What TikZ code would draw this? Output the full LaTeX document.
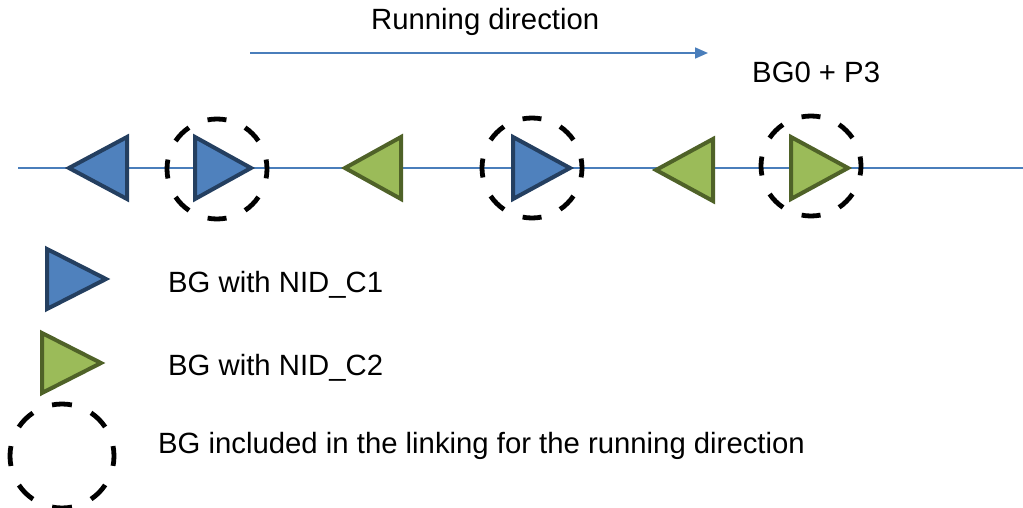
\documentclass[tikz,border=0pt]{standalone}
\usepackage{fontspec}
\setmainfont{Liberation Sans}
\usetikzlibrary{arrows.meta}
\definecolor{bgblue}{HTML}{4F81BD}
\definecolor{bgblueedge}{HTML}{243F60}
\definecolor{bggreen}{HTML}{9BBB59}
\definecolor{bggreenedge}{HTML}{4F6228}
\definecolor{linecol}{HTML}{4A7EBB}
\begin{document}
\begin{tikzpicture}[x=1pt,y=-1pt,
  bluetri/.style={fill=bgblue,draw=bgblueedge,line width=4pt,line join=miter},
  greentri/.style={fill=bggreen,draw=bggreenedge,line width=4pt,line join=miter},
  linkcircle/.style={draw=black,line width=4.8pt,dash pattern=on 19pt off 20.27pt,dash phase=9.5pt,circle,inner sep=0pt,minimum size=100pt},
  lbl/.style={font=\fontsize{29.3}{34}\selectfont,inner sep=0pt,anchor=west}]
\useasboundingbox (0,0) rectangle (1023,508);
% main line
\coordinate (L0) at (18,168);
\coordinate (L1) at (570,168);
\coordinate (L2) at (1023,168);
\draw[linecol,line width=1.6pt] (L0) -- (L1);
\draw[linecol,line width=2.6pt] (L1) -- (L2);
% running direction arrow
\coordinate (A0) at (250,53);
\coordinate (A1) at (708,53);
\draw[linecol,line width=1.6pt,-{Triangle[length=13pt,width=11pt]}] (A0) -- (A1);
\node[lbl] (run) at (371,22) {Running direction};
\node[lbl] (bg0) at (752,72) {BG0 + P3};
% triangles on line
\draw[bluetri] (127,137) -- (69,168) -- (127,199) -- cycle;
\draw[bluetri] (195,137) -- (251,168) -- (195,199) -- cycle;
\draw[greentri] (401,137) -- (345,168) -- (401,199) -- cycle;
\draw[bluetri] (513,137) -- (570,168) -- (513,199) -- cycle;
\draw[greentri] (713,139) -- (656,170) -- (713,201) -- cycle;
\draw[greentri] (791,137) -- (848,168) -- (791,199) -- cycle;
% circles
\node[linkcircle] (c1) at (217,169) {};
\node[linkcircle] (c2) at (532,168) {};
\node[linkcircle] (c3) at (811,166) {};
% legend
\draw[bluetri] (47,249) -- (106,279) -- (47,309) -- cycle;
\draw[greentri] (42,333) -- (101,363) -- (42,393) -- cycle;
\node[linkcircle,minimum size=104pt,dash pattern=on 20pt off 20.84pt,dash phase=10pt] (c4) at (62,456) {};
\node[lbl] (t1) at (168,285) {BG with NID\_C1};
\node[lbl] (t2) at (168,368) {BG with NID\_C2};
\node[lbl] (t3) at (158,446) {BG included in the linking for the running direction};
\end{tikzpicture}
\end{document}
